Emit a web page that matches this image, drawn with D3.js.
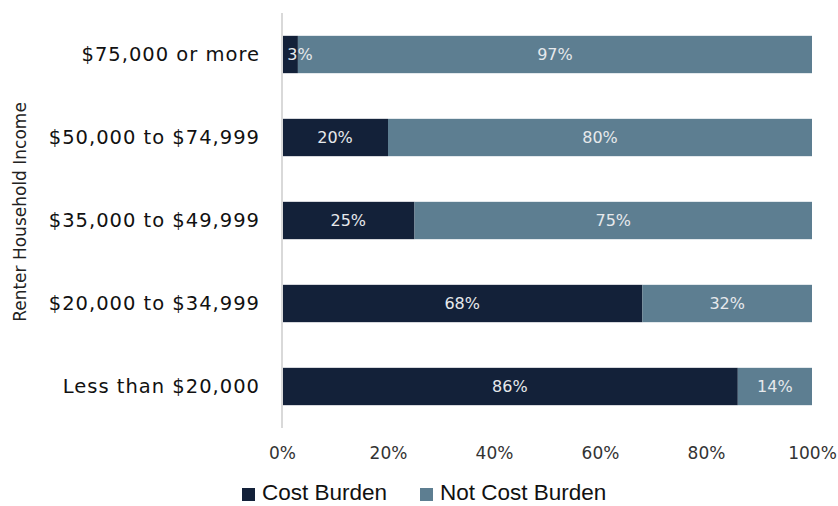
<!DOCTYPE html>
<html>
<head>
<meta charset="utf-8">
<script src="https://cdn.jsdelivr.net/npm/d3@7"></script>
<style>
  html, body { margin: 0; padding: 0; background: #fff; }
  svg { display: block; font-family: "DejaVu Sans", "Liberation Sans", Arial, sans-serif; }
</style>
</head>
<body>
<svg id="chart" width="838" height="506"></svg>
<script>
// Renter households by income band, share cost burdened vs. not
const categories = [
  "$75,000 or more",
  "$50,000 to $74,999",
  "$35,000 to $49,999",
  "$20,000 to $34,999",
  "Less than $20,000"
];
const costBurden    = [3, 20, 25, 68, 86];
const notCostBurden = [97, 80, 75, 32, 14];
const seriesNames = ["Cost Burden", "Not Cost Burden"];
const seriesColors = ["#132139", "#5d7e91"];
const xTicks = [0, 20, 40, 60, 80, 100];

const FONT = "'DejaVu Sans', 'Liberation Sans', Arial, sans-serif";
const LEGEND_FONT = "'Liberation Sans', Arial, sans-serif";
const svg = d3.select("#chart");

const rows = categories.map((c, i) => ({
  category: c,
  "Cost Burden": costBurden[i],
  "Not Cost Burden": notCostBurden[i]
}));
const stacked = d3.stack().keys(seriesNames)(rows);

const x = d3.scaleLinear().domain([0, 100]).range([282, 812]);
const y = d3.scaleBand().domain(categories).range([13, 428]).paddingInner(0.55).paddingOuter(0.275);
const color = d3.scaleOrdinal().domain(seriesNames).range(seriesColors);

// stacked bar segments
const layers = svg.append("g").selectAll("g")
  .data(stacked).join("g")
  .attr("fill", d => color(d.key));

layers.selectAll("rect")
  .data(d => d).join("rect")
  .attr("x", d => x(d[0]))
  .attr("y", d => y(d.data.category))
  .attr("width", d => x(d[1]) - x(d[0]))
  .attr("height", y.bandwidth());

// value labels inside segments, drawn above all bars
const segs = stacked.flatMap(layer => layer.map(d => ({ d, v: d[1] - d[0] })));
svg.append("g").selectAll("text")
  .data(segs).join("text")
  .attr("x", s => {
    const mid = (x(s.d[0]) + x(s.d[1])) / 2;
    return Math.max(mid, x(s.d[0]) + 18);
  })
  .attr("y", s => y(s.d.data.category) + y.bandwidth() / 2)
  .attr("dy", "0.35em")
  .attr("text-anchor", "middle")
  .attr("fill", "#e6e9ec")
  .style("font-size", "16px")
  .style("font-family", FONT)
  .text(s => s.v + "%");

// vertical axis line
svg.append("line")
  .attr("x1", x(0)).attr("x2", x(0))
  .attr("y1", 13).attr("y2", 428)
  .attr("stroke", "#d9d9d9").attr("stroke-width", 2);

// category labels
const yAxis = svg.append("g")
  .attr("transform", `translate(${x(0) - 22},0)`)
  .call(d3.axisLeft(y).tickSize(0).tickPadding(0));
yAxis.select(".domain").remove();
yAxis.selectAll("text")
  .style("font-size", "19.5px")
  .style("letter-spacing", "1px")
  .style("font-family", FONT)
  .attr("fill", "#111");

// x tick labels
const xAxis = svg.append("g")
  .call(d3.axisBottom(x).tickValues(xTicks).tickFormat(d => d + "%").tickSize(0).tickPadding(0));
xAxis.select(".domain").remove();
xAxis.selectAll("text")
  .attr("y", 459)
  .attr("dy", 0)
  .style("font-size", "17px")
  .style("font-family", FONT)
  .attr("fill", "#333");

// y axis title
svg.append("text")
  .attr("transform", "translate(26,212) rotate(-90)")
  .attr("text-anchor", "middle")
  .attr("fill", "#222")
  .style("font-size", "17px")
  .style("font-family", FONT)
  .text("Renter Household Income");

// legend
const legendX = [242, 420];
const legend = svg.append("g").selectAll("g")
  .data(seriesNames).join("g")
  .attr("transform", (d, i) => `translate(${legendX[i]},0)`);
legend.append("rect")
  .attr("x", 0).attr("y", 488)
  .attr("width", 13).attr("height", 13)
  .attr("fill", d => color(d));
legend.append("text")
  .attr("x", 20).attr("y", 500)
  .attr("fill", "#111")
  .style("font-size", "22.5px")
  .style("font-family", LEGEND_FONT)
  .text(d => d);
</script>
</body>
</html>
